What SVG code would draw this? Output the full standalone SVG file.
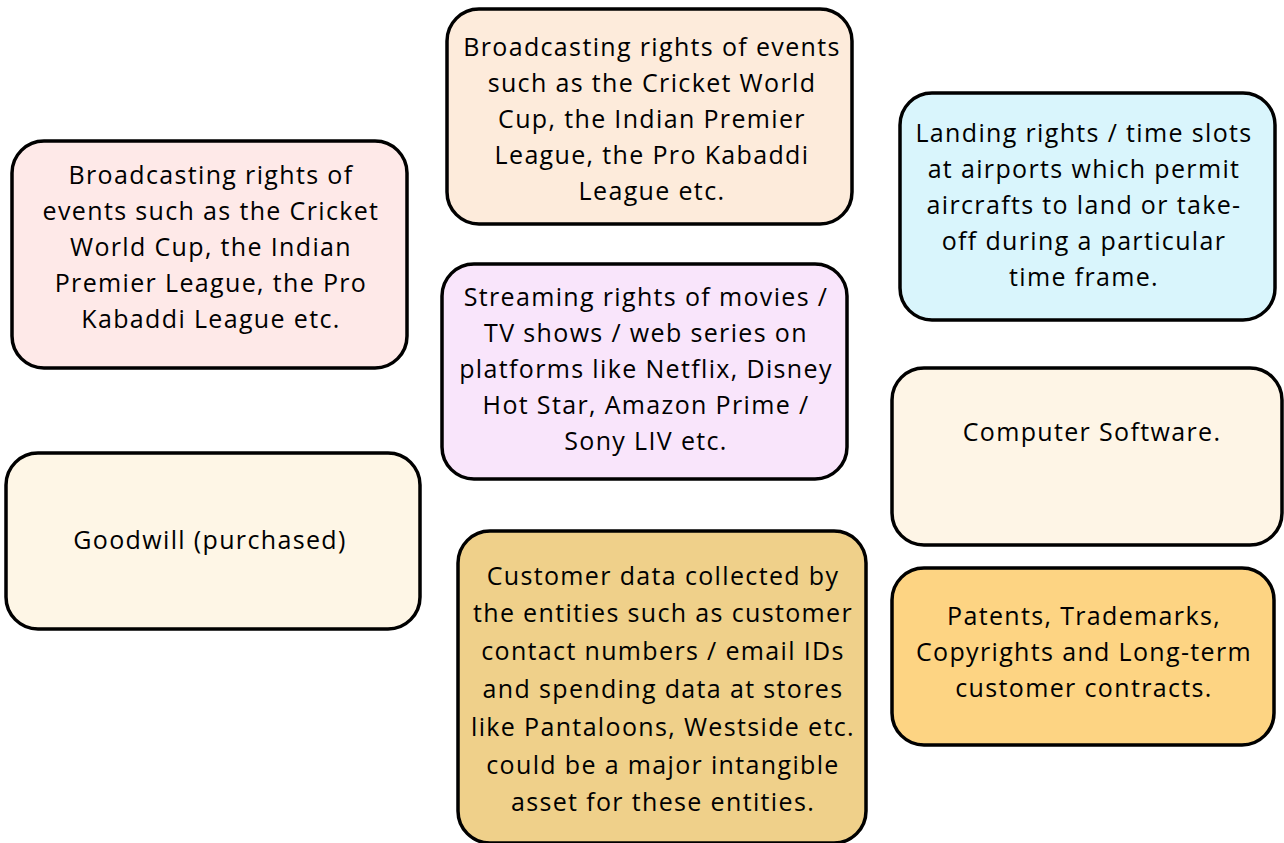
<svg xmlns="http://www.w3.org/2000/svg" width="1284" height="843" viewBox="0 0 1284 843">
<style>
.box{stroke:#000;stroke-width:3.5}
.t{font-family:"Open Sans","Noto Sans","DejaVu Sans",sans-serif;font-size:25px;letter-spacing:1.35px;fill:#000;text-anchor:middle}
</style>
<rect width="1284" height="843" fill="#fff"/>
<g id="connectors"></g>
<g id="n1">
<rect class="box" x="12" y="141" width="395" height="227" rx="32" fill="#FEE9E8"/>
<text class="t"><tspan x="211" y="184">Broadcasting rights of</tspan><tspan x="211" y="220">events such as the Cricket</tspan><tspan x="211" y="256">World Cup, the Indian</tspan><tspan x="211" y="292">Premier League, the Pro</tspan><tspan x="211" y="328">Kabaddi League etc.</tspan></text>
</g>
<g id="n2">
<rect class="box" x="447" y="9" width="405" height="215" rx="32" fill="#FDEBDB"/>
<text class="t"><tspan x="652" y="56">Broadcasting rights of events</tspan><tspan x="652" y="92">such as the Cricket World</tspan><tspan x="652" y="128">Cup, the Indian Premier</tspan><tspan x="652" y="164">League, the Pro Kabaddi</tspan><tspan x="652" y="200">League etc.</tspan></text>
</g>
<g id="n3">
<rect class="box" x="900" y="93" width="375" height="227" rx="32" fill="#D9F5FC"/>
<text class="t"><tspan x="1084" y="142">Landing rights / time slots</tspan><tspan x="1084" y="178">at airports which permit</tspan><tspan x="1084" y="214">aircrafts to land or take-</tspan><tspan x="1084" y="250">off during a particular</tspan><tspan x="1084" y="286">time frame.</tspan></text>
</g>
<g id="n4">
<rect class="box" x="442" y="264" width="405" height="215" rx="32" fill="#F9E5FB"/>
<text class="t"><tspan x="646" y="306">Streaming rights of movies /</tspan><tspan x="646" y="342">TV shows / web series on</tspan><tspan x="646" y="378">platforms like Netflix, Disney</tspan><tspan x="646" y="414">Hot Star, Amazon Prime /</tspan><tspan x="646" y="450">Sony LIV etc.</tspan></text>
</g>
<g id="n5">
<rect class="box" x="6" y="453" width="414" height="176" rx="32" fill="#FEF6E6"/>
<text class="t" x="210" y="549">Goodwill (purchased)</text>
</g>
<g id="n6">
<rect class="box" x="892" y="368" width="390" height="177" rx="32" fill="#FEF5E6"/>
<text class="t" x="1092" y="441">Computer Software.</text>
</g>
<g id="n7">
<rect class="box" x="892" y="568" width="382" height="177" rx="32" fill="#FDD483"/>
<text class="t"><tspan x="1084" y="625">Patents, Trademarks,</tspan><tspan x="1084" y="661">Copyrights and Long-term</tspan><tspan x="1084" y="697">customer contracts.</tspan></text>
</g>
<g id="n8">
<rect class="box" x="458" y="531" width="408" height="312" rx="32" fill="#EFD08A"/>
<text class="t"><tspan x="663" y="585">Customer data collected by</tspan><tspan x="663" y="622">the entities such as customer</tspan><tspan x="663" y="660">contact numbers / email IDs</tspan><tspan x="663" y="698">and spending data at stores</tspan><tspan x="663" y="736">like Pantaloons, Westside etc.</tspan><tspan x="663" y="774">could be a major intangible</tspan><tspan x="663" y="811">asset for these entities.</tspan></text>
</g>
</svg>
